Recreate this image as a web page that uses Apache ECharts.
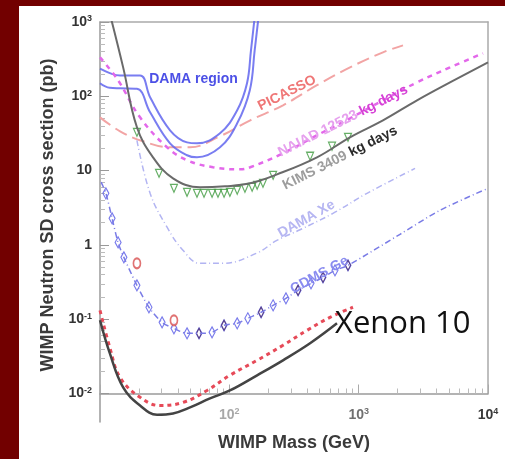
<!DOCTYPE html>
<html><head><meta charset="utf-8">
<script src="https://cdn.jsdelivr.net/npm/echarts@6/dist/echarts.min.js"></script>
<style>html,body{margin:0;padding:0;background:#720000;}#c{width:505px;height:459px;}</style>
</head><body><div id="c"></div>
<script>
// ---------------- data (WIMP mass in GeV, cross section in pb) ----------------
const xMajorTicks = [10, 100, 1000, 10000];
const xLabelTicks = [100, 1000, 10000];
const yMajorTicks = [0.01, 0.1, 1, 10, 100, 1000];

const xenon10Mass  = [10, 11.9, 15.1, 20.4, 27.6, 36.7, 49.7, 70.9, 101, 164, 260, 421, 680];
const xenon10Sigma = [0.097, 0.035, 0.0121, 0.0069, 0.0052, 0.0054, 0.0065, 0.0086, 0.011, 0.0176, 0.028, 0.0474, 0.088];

const xenon10bMass  = [10, 11.9, 14.3, 20.4, 29.1, 43.8, 67.2, 101, 164, 260, 399, 600, 904];
const xenon10bSigma = [0.132, 0.0419, 0.0165, 0.0089, 0.0069, 0.0076, 0.011, 0.0176, 0.028, 0.0446, 0.0709, 0.106, 0.145];

const kimsMass  = [12.2, 15.1, 19.3, 25.7, 36.7, 59.3, 92.6, 145, 234, 476, 857, 1542, 2826, 5084, 10000];
const kimsSigma = [1100, 245, 38.3, 15.1, 7.87, 5.96, 6.15, 6.75, 8.9, 15.1, 28.1, 47.5, 88.3, 154, 287];

const triMass  = [19.3, 28.6, 37.3, 47.1, 56.2, 63.7, 73.5, 81.7, 91, 101, 115, 132, 150, 164, 182, 218, 421, 622, 827];
const triSigma = [32.8, 9.2, 5.78, 5.1, 4.95, 4.95, 4.95, 4.95, 4.95, 5.1, 5.43, 5.78, 5.96, 6.35, 6.75, 8.65, 15.6, 21.3, 28.1];

const naiadMass  = [10, 13.8, 20.4, 33, 47.1, 74.8, 121, 145, 260, 476, 857, 1542, 2826, 5084, 9150];
const naiadSigma = [334, 164, 52.1, 20.6, 13.8, 11.1, 10.4, 11.1, 17.1, 29.9, 50.6, 88.3, 154, 245, 379];

const picassoMass  = [10, 14.3, 21.5, 34.8, 49.7, 84.7, 145, 260, 476, 857, 1542, 2202];
const picassoSigma = [52.1, 33.8, 24.8, 20.6, 20.6, 29.0, 47.5, 75.7, 141, 245, 391, 485];

const damaXeMass  = [19.3, 24.4, 33, 43.8, 59.3, 89.2, 164, 233, 352, 633, 1160, 2729];
const damaXeSigma = [25.6, 4.95, 1.73, 0.846, 0.565, 0.565, 0.78, 1.15, 1.6, 2.66, 4.95, 10.7];

const cdmsLineMass  = [10.2, 11.1, 12.4, 13.8, 15.3, 19.3, 23.9, 30.2, 37.3, 47.1, 58.3, 73.5, 91, 115, 139, 176, 218, 274, 340, 428, 530, 656, 827, 2088, 4256, 10000];
const cdmsLineSigma = [7.0, 4.95, 2.28, 1.08, 0.68, 0.286, 0.145, 0.0908, 0.0754, 0.0646, 0.0646, 0.0667, 0.0828, 0.088, 0.103, 0.124, 0.154, 0.191, 0.245, 0.304, 0.366, 0.455, 0.531, 1.39, 2.92, 5.78];
const cdmsPtMass  = [11.1, 12.4, 13.8, 15.3, 19.3, 23.9, 30.2, 37.3, 47.1, 58.3, 73.5, 91, 115, 139, 176, 218, 274, 340, 428, 530, 656, 827];
const cdmsPtSigma = [4.95, 2.28, 1.08, 0.68, 0.286, 0.145, 0.0908, 0.0754, 0.0646, 0.0646, 0.0667, 0.0828, 0.088, 0.103, 0.124, 0.154, 0.191, 0.245, 0.304, 0.366, 0.455, 0.531];
const darkPtMass  = [58.3, 91, 176, 340, 530, 827];
const darkPtSigma = [0.0646, 0.0828, 0.124, 0.245, 0.366, 0.531];
const redCircleMass  = [19.3, 37.3];
const redCircleSigma = [0.565, 0.0966];

const damaUpMass  = [10, 11.9, 14.3, 20.4, 24.4, 34.8, 47.1, 56.2, 84.7, 115, 137, 147, 156];
const damaUpSigma = [235, 205, 190, 190, 97, 34.9, 24.0, 23.3, 31.8, 64.8, 150, 416, 1050];
const damaLoMass  = [10, 11.9, 14.3, 19.3, 24.4, 34.8, 47.1, 56.2, 84.7, 115, 144, 157, 167];
const damaLoSigma = [150, 130, 128, 126, 60.9, 23.3, 16.1, 15.1, 20.6, 43.3, 121, 416, 1050];

// ---------------- helpers ----------------
const X_MIN = 1, X_MAX = 4;        // log10 of mass range
const Y_MIN = -2.383, Y_MAX = 3;   // log10 of cross-section range (data grid)
const Y_FRAME_MIN = -2;            // frame (x axis) sits at 1e-2
const lx = m => Math.log10(m);
const ly = s => Math.log10(s);
const pts = (ms, ss) => ms.map((m, i) => [lx(m), ly(ss[i])]);
const xMinor = [], yMinor = [];
for (let k = 1; k < 4; k++) for (let j = 2; j <= 9; j++) xMinor.push(Math.log10(j) + k);
for (let k = -2; k < 3; k++) for (let j = 2; j <= 9; j++) yMinor.push(Math.log10(j) + k);

const FONT = 'Liberation Sans, Arial, sans-serif';
const rad = d => d * Math.PI / 180;

const chart = echarts.init(document.getElementById('c'), null, {renderer: 'canvas'});

const yLabelFmt = v => {
  const k = Math.round(v);
  if (k === 1) return '{b|10}';
  if (k === 0) return '{b|1}';
  return '{b|10}{s|' + k + '}';
};
const xLabelFmt = v => {
  const k = Math.round(v);
  const st = k === 2 ? 'l' : (k === 3 ? 'm' : 'd');
  return '{' + st + '|10}{' + st + 's|' + k + '}';
};
const supStyle = c => ({fontSize: 9, fontWeight: 'bold', fontFamily: FONT, color: c, verticalAlign: 'top', padding: [0, 0, 6, 0]});
const baseStyle = c => ({fontSize: 14, fontWeight: 'bold', fontFamily: FONT, color: c});

const label = (text, x, y, rot, fill, rich) => ({
  type: 'text', x: x, y: y, rotation: rad(rot), silent: true, z: 50,
  style: {text: text, fill: fill, font: 'bold 14px ' + FONT, align: 'center', verticalAlign: 'middle', rich: rich}
});

// grid 0: data area (full height incl. the part below 1e-2); grid 1: frame whose bottom edge is 1e-2
const GRID_DATA = {left: 100, right: 17, top: 22, bottom: 37};
const GRID_FRAME = {left: 100, right: 17, top: 22, bottom: 65.5};

const option = {
  animation: false,
  backgroundColor: '#720000',
  grid: [
    Object.assign({containLabel: false, outerBoundsMode: 'none'}, GRID_DATA),
    Object.assign({containLabel: false, outerBoundsMode: 'none'}, GRID_FRAME)
  ],
  xAxis: [
    { gridIndex: 0, type: 'value', min: X_MIN, max: X_MAX, show: false },
    { gridIndex: 1, type: 'value', min: X_MIN, max: X_MAX, position: 'bottom',
      axisLine: {show: true, onZero: false, lineStyle: {color: '#9a9a9a', width: 1.5}},
      axisTick: {show: true, inside: true, length: 9, customValues: xMajorTicks.map(lx), lineStyle: {color: '#aaa', width: 1}},
      axisLabel: {show: true, margin: 14, customValues: xLabelTicks.map(lx), formatter: xLabelFmt,
        rich: {l: baseStyle('#a8a8a8'), ls: supStyle('#a8a8a8'), m: baseStyle('#707070'), ms: supStyle('#707070'), d: baseStyle('#3a3a3a'), ds: supStyle('#3a3a3a')}},
      splitLine: {show: false},
      name: 'WIMP Mass (GeV)', nameLocation: 'middle', nameGap: 41,
      nameTextStyle: {fontSize: 18, fontWeight: 'bold', color: '#3a3a3a', fontFamily: FONT}
    },
    { gridIndex: 1, type: 'value', min: X_MIN, max: X_MAX, position: 'bottom',
      axisLine: {show: false, onZero: false},
      axisTick: {show: true, inside: true, length: 5, customValues: xMinor, lineStyle: {color: '#bbb', width: 1}},
      axisLabel: {show: false}, splitLine: {show: false}
    },
    { gridIndex: 1, type: 'value', min: X_MIN, max: X_MAX, position: 'top',
      axisLine: {show: true, onZero: false, lineStyle: {color: '#aaa', width: 1.5}},
      axisTick: {show: false}, axisLabel: {show: false}, splitLine: {show: false}
    }
  ],
  yAxis: [
    { gridIndex: 0, type: 'value', min: Y_MIN, max: Y_MAX, position: 'left',
      axisLine: {show: true, onZero: false, lineStyle: {color: '#9a9a9a', width: 1.5}},
      axisTick: {show: true, inside: true, length: 9, customValues: yMajorTicks.map(ly), lineStyle: {color: '#999', width: 1}},
      axisLabel: {show: true, margin: 8, customValues: yMajorTicks.map(ly), formatter: yLabelFmt,
        rich: {b: baseStyle('#333'), s: supStyle('#333')}},
      splitLine: {show: false},
      name: 'WIMP Neutron SD cross section (pb)', nameLocation: 'middle', nameGap: 36,
      nameTextStyle: {fontSize: 18, fontWeight: 'bold', color: '#3a3a3a', fontFamily: FONT, padding: [0, 0, 0, 14]}
    },
    { gridIndex: 0, type: 'value', min: Y_MIN, max: Y_MAX, position: 'left',
      axisLine: {show: false, onZero: false},
      axisTick: {show: true, inside: true, length: 5, customValues: yMinor, lineStyle: {color: '#bbb', width: 1}},
      axisLabel: {show: false}, splitLine: {show: false}
    },
    { gridIndex: 1, type: 'value', min: Y_FRAME_MIN, max: Y_MAX, position: 'right',
      axisLine: {show: true, onZero: false, lineStyle: {color: '#aaa', width: 1.5}},
      axisTick: {show: false}, axisLabel: {show: false}, splitLine: {show: false}
    }
  ],
  graphic: [
    {type: 'rect', shape: {x: 19, y: 6, width: 486, height: 453}, style: {fill: '#ffffff'}, z: -10, silent: true},
    label('DAMA region', 193.5, 79, 0, '#4c50e6'),
    label('PICASSO', 287, 93, 26.6, '#ef7676'),
    label('{a|NAIAD 12523 }{b|kg days}', 343, 121, 26.8, '#e6a0ee',
      {a: {font: 'bold 14px ' + FONT, fill: '#e6a0ee'}, b: {font: 'bold 14px ' + FONT, fill: '#d640d6'}}),
    label('{a|KIMS 3409 }{b|kg days}', 340, 158, 26.6, '#9a9a9a',
      {a: {font: 'bold 14px ' + FONT, fill: '#9d9d9d'}, b: {font: 'bold 14px ' + FONT, fill: '#2a2a2a'}}),
    label('DAMA Xe', 306.5, 219, 29.3, '#b6b6f2'),
    label('CDMS Ge', 319.5, 275, 28.6, '#8a8cf0'),
    {type: 'text', x: 335, y: 324, z: 60, silent: true,
     style: {text: 'Xenon 10', fill: '#111', font: '31px "Open Sans", sans-serif', align: 'left', verticalAlign: 'middle'}}
  ],
  series: [
    {type: 'line', name: 'PICASSO', data: pts(picassoMass, picassoSigma), smooth: 0.4, symbol: 'none',
     lineStyle: {color: '#f2a4a4', width: 2, type: [13, 6]}},
    {type: 'line', name: 'DAMA region upper', data: pts(damaUpMass, damaUpSigma), smooth: 0.4, symbol: 'none',
     lineStyle: {color: '#6266ee', width: 2, opacity: 0.85}},
    {type: 'line', name: 'DAMA region lower', data: pts(damaLoMass, damaLoSigma), smooth: 0.4, symbol: 'none',
     lineStyle: {color: '#6266ee', width: 2, opacity: 0.85}},
    {type: 'line', name: 'NAIAD', data: pts(naiadMass, naiadSigma), smooth: 0.4, symbol: 'none',
     lineStyle: {color: '#e368ea', width: 2.5, type: [5, 5]}},
    {type: 'line', name: 'DAMA Xe', data: pts(damaXeMass, damaXeSigma), smooth: 0.4, symbol: 'none',
     lineStyle: {color: '#b2b4f2', width: 1.5, type: [6, 3, 1, 3]}},
    {type: 'line', name: 'KIMS', data: pts(kimsMass, kimsSigma), smooth: 0.4, symbol: 'none',
     lineStyle: {color: '#6a6a6a', width: 2}},
    {type: 'line', name: 'CDMS Ge', data: pts(cdmsLineMass, cdmsLineSigma), smooth: 0.3, symbol: 'none',
     lineStyle: {color: '#7a7ce6', width: 1.5, type: [6, 3, 1, 3]}},
    {type: 'scatter', name: 'CDMS Ge points', data: pts(cdmsPtMass, cdmsPtSigma), symbol: 'diamond', symbolSize: [6, 11],
     itemStyle: {color: 'rgba(255,255,255,0)', borderColor: '#5558e6', borderWidth: 1.2}},
    {type: 'scatter', name: 'dark points', data: pts(darkPtMass, darkPtSigma), symbol: 'diamond', symbolSize: [5, 10],
     itemStyle: {color: 'rgba(255,255,255,0)', borderColor: '#4a2a6a', borderWidth: 1.2}},
    {type: 'scatter', name: 'red circles', data: pts(redCircleMass, redCircleSigma), symbol: 'emptyCircle', symbolSize: [7, 10],
     itemStyle: {color: '#d85050', borderColor: '#d85050', borderWidth: 1.2}},
    {type: 'scatter', name: 'triangles', data: pts(triMass, triSigma), symbol: 'triangle', symbolRotate: 180, symbolSize: [7, 8],
     itemStyle: {color: 'rgba(255,255,255,0)', borderColor: '#3f9a3f', borderWidth: 1.2}},
    {type: 'line', name: 'Xenon10 dashed', data: pts(xenon10bMass, xenon10bSigma), smooth: 0.4, symbol: 'none',
     lineStyle: {color: '#e64a58', width: 3, type: [4, 4]}},
    {type: 'line', name: 'Xenon10', data: pts(xenon10Mass, xenon10Sigma), smooth: 0.4, symbol: 'none',
     lineStyle: {color: '#444', width: 2.5}}
  ]
};
chart.setOption(option);
</script>
</body></html>
